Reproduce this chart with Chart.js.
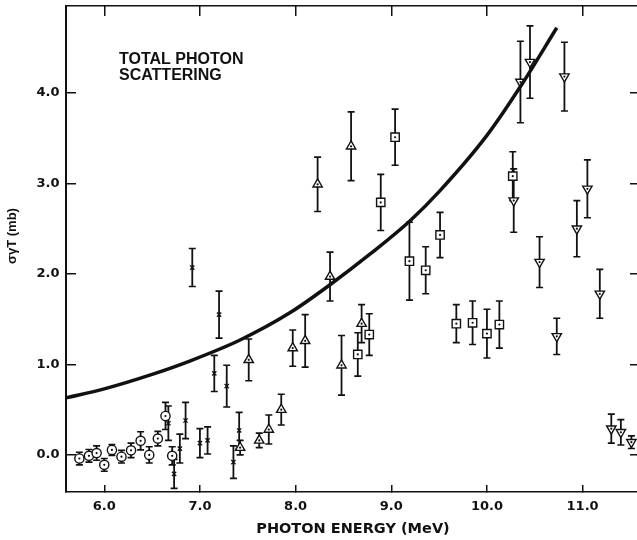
<!DOCTYPE html>
<html>
<head>
<meta charset="utf-8">
<script src="https://cdn.jsdelivr.net/npm/chart.js@4.4.1/dist/chart.umd.min.js"></script>
<style>
  html, body { margin: 0; padding: 0; background: #fff; overflow: hidden; }
</style>
</head>
<body>
<canvas id="chart" width="641" height="540"></canvas>
<script>
// tick labels
const xTicks = [6, 7, 8, 9, 10, 11];
const yTicks = [0, 1, 2, 3, 4];

// smooth curve
const curveE = [5.6, 6.0, 6.5, 6.9, 7.42, 7.94, 8.36, 8.78, 9.2, 9.51, 10.0, 10.35, 10.73];
const curveS = [0.63, 0.73, 0.89, 1.04, 1.27, 1.57, 1.88, 2.22, 2.59, 2.92, 3.53, 4.07, 4.72];

// open circles
const circE = [5.74, 5.84, 5.92, 6.0, 6.08, 6.18, 6.28, 6.38, 6.47, 6.56, 6.64, 6.71];
const circS = [-0.04, -0.01, 0.02, -0.11, 0.055, -0.02, 0.05, 0.155, 0.0, 0.18, 0.43, -0.01];
const circErr = [0.07, 0.07, 0.08, 0.07, 0.06, 0.07, 0.08, 0.1, 0.09, 0.08, 0.15, 0.1];

// crosses
const crossE = [6.67, 6.73, 6.79, 6.85, 6.92, 7.0, 7.08, 7.15, 7.2, 7.28, 7.35, 7.41];
const crossS = [0.35, -0.21, 0.07, 0.38, 2.07, 0.13, 0.16, 0.9, 1.55, 0.76, -0.08, 0.27];
const crossErr = [0.19, 0.16, 0.16, 0.2, 0.21, 0.16, 0.15, 0.2, 0.26, 0.23, 0.18, 0.2];

// triangles (up)
const triE = [7.42, 7.51, 7.62, 7.72, 7.85, 7.97, 8.1, 8.23, 8.36, 8.48, 8.58, 8.69];
const triS = [0.08, 1.05, 0.16, 0.28, 0.5, 1.18, 1.26, 2.99, 1.97, 0.99, 3.41, 1.45];
const triErr = [0.08, 0.23, 0.08, 0.16, 0.17, 0.2, 0.29, 0.3, 0.27, 0.33, 0.38, 0.21];

// squares
const sqE = [8.65, 8.77, 8.89, 9.04, 9.19, 9.36, 9.51, 9.68, 9.85, 10.0, 10.13, 10.27];
const sqS = [1.11, 1.33, 2.79, 3.51, 2.14, 2.04, 2.43, 1.45, 1.46, 1.34, 1.44, 3.08];
const sqErr = [0.24, 0.23, 0.31, 0.31, 0.43, 0.26, 0.25, 0.21, 0.24, 0.27, 0.26, 0.27];

// triangles (down)
const tdE = [10.28, 10.35, 10.45, 10.55, 10.73, 10.81, 10.94, 11.05, 11.18, 11.3, 11.4, 11.51];
const tdS = [2.81, 4.12, 4.34, 2.13, 1.31, 4.18, 2.5, 2.94, 1.78, 0.29, 0.25, 0.14];
const tdErr = [0.35, 0.45, 0.4, 0.28, 0.2, 0.38, 0.31, 0.32, 0.27, 0.16, 0.14, 0.07];

const ink = '#111';
const pts = (xs, ys) => xs.map((x, i) => ({ x: x, y: ys[i] }));
const tickFont = { family: 'DejaVu Sans', weight: 'bold', size: 13 };

// keep the plot area where the original has it
const fitX = h => s => { s.height = h; s.paddingLeft = 0; s.paddingRight = 0; };
const fitY = w => s => { s.width = w; s.paddingTop = 0; s.paddingBottom = 0; };

const errorBars = {
  id: 'errorBars',
  beforeDatasetsDraw(chart) {
    const ctx = chart.ctx, xs = chart.scales.x, ys = chart.scales.y;
    ctx.save();
    ctx.strokeStyle = ink;
    chart.data.datasets.forEach(ds => {
      if (!ds.errs) return;
      ds.data.forEach((p, i) => {
        const px = xs.getPixelForValue(p.x);
        const top = ys.getPixelForValue(p.y + ds.errs[i]);
        const bot = ys.getPixelForValue(p.y - ds.errs[i]);
        ctx.lineWidth = 1.8;
        ctx.beginPath();
        ctx.moveTo(px, top);
        ctx.lineTo(px, bot);
        ctx.stroke();
        ctx.lineWidth = 1.6;
        ctx.beginPath();
        ctx.moveTo(px - 3.5, top); ctx.lineTo(px + 3.5, top);
        ctx.moveTo(px - 3.5, bot); ctx.lineTo(px + 3.5, bot);
        ctx.stroke();
      });
    });
    ctx.restore();
  },
  afterDatasetsDraw(chart) {
    // small dot in the middle of the open markers
    const ctx = chart.ctx, xs = chart.scales.x, ys = chart.scales.y;
    ctx.save();
    ctx.fillStyle = ink;
    chart.data.datasets.forEach(ds => {
      if (!ds.dot) return;
      ds.data.forEach(p => {
        ctx.beginPath();
        ctx.arc(xs.getPixelForValue(p.x), ys.getPixelForValue(p.y), 1.1, 0, Math.PI * 2);
        ctx.fill();
      });
    });
    ctx.restore();
  },
  afterDraw(chart) {
    const ctx = chart.ctx;
    ctx.save();
    ctx.fillStyle = ink;
    ctx.font = 'bold 16px "Liberation Sans", Arial, sans-serif';
    ctx.textBaseline = 'alphabetic';
    ctx.fillText('TOTAL PHOTON', 119, 64);
    ctx.fillText('SCATTERING', 119, 80);
    // y axis title
    ctx.translate(12, 236);
    ctx.rotate(-Math.PI / 2);
    ctx.font = 'bold 13px "Liberation Sans", Arial, sans-serif';
    ctx.textAlign = 'center';
    ctx.textBaseline = 'middle';
    ctx.fillText('σγT (mb)', 0, 0);
    ctx.restore();
  }
};

const marker = (label, xs, ys, errs, style, radius, extra) => Object.assign({
  label: label,
  data: pts(xs, ys),
  errs: errs,
  dot: style !== 'crossRot',
  pointStyle: style,
  pointRadius: radius,
  pointBorderColor: ink,
  pointBackgroundColor: '#fff',
  pointBorderWidth: 1.4,
  showLine: false
}, extra || {});

new Chart(document.getElementById('chart'), {
  type: 'scatter',
  data: {
    datasets: [
      {
        label: 'curve',
        data: pts(curveE, curveS),
        showLine: true,
        borderColor: ink,
        borderWidth: 3.5,
        pointRadius: 0,
        cubicInterpolationMode: 'monotone',
        fill: false
      },
      marker('circles', circE, circS, circErr, 'circle', 4.6),
      marker('crosses', crossE, crossS, crossErr, 'crossRot', 3, { pointBorderWidth: 1.3 }),
      marker('triangles', triE, triS, triErr, 'triangle', 5.4),
      marker('squares', sqE, sqS, sqErr, 'rect', 5.9),
      marker('triangles down', tdE, tdS, tdErr, 'triangle', 5.4, { pointRotation: 180 })
    ]
  },
  options: {
    responsive: false,
    animation: false,
    events: [],
    layout: { autoPadding: false, padding: { top: 6, right: 1, left: 0, bottom: 0 } },
    plugins: { legend: { display: false }, tooltip: { enabled: false } },
    scales: {
      x: {
        type: 'linear', position: 'bottom', min: 5.6, max: 11.6,
        afterBuildTicks: s => { s.ticks = xTicks.map(v => ({ value: v })); },
        afterFit: fitX(48),
        border: { display: true, color: ink, width: 1.6 },
        grid: { drawOnChartArea: false, tickLength: -7, color: ink, lineWidth: 1.5 },
        ticks: { color: ink, font: tickFont, padding: 14, maxRotation: 0, callback: v => v.toFixed(1) },
        title: {
          display: true, text: 'PHOTON ENERGY (MeV)', color: ink,
          font: { family: 'DejaVu Sans', weight: 'bold', size: 14.5 },
          padding: { top: 0, bottom: 2 }
        }
      },
      x2: {
        type: 'linear', position: 'top', axis: 'x', min: 5.6, max: 11.6,
        afterBuildTicks: s => { s.ticks = xTicks.map(v => ({ value: v })); },
        afterFit: fitX(0),
        border: { display: true, color: ink, width: 1.5 },
        grid: { drawOnChartArea: false, tickLength: -10, color: ink, lineWidth: 1.5 },
        ticks: { display: false }
      },
      y: {
        type: 'linear', position: 'left', min: -0.41, max: 4.96,
        afterBuildTicks: s => { s.ticks = yTicks.map(v => ({ value: v })); },
        afterFit: fitY(66),
        border: { display: true, color: ink, width: 2 },
        grid: { drawOnChartArea: false, tickLength: -10, color: ink, lineWidth: 1.5 },
        ticks: { color: ink, font: tickFont, padding: 16.5, callback: v => v.toFixed(1) },
        title: { display: false }
      },
      y2: {
        type: 'linear', position: 'right', axis: 'y', min: -0.41, max: 4.96,
        afterBuildTicks: s => { s.ticks = yTicks.map(v => ({ value: v })); },
        afterFit: fitY(0),
        border: { display: true, color: ink, width: 1.5 },
        grid: { drawOnChartArea: false, tickLength: -10, color: ink, lineWidth: 1.5 },
        ticks: { display: false }
      }
    }
  },
  plugins: [errorBars]
});
</script>
</body>
</html>
